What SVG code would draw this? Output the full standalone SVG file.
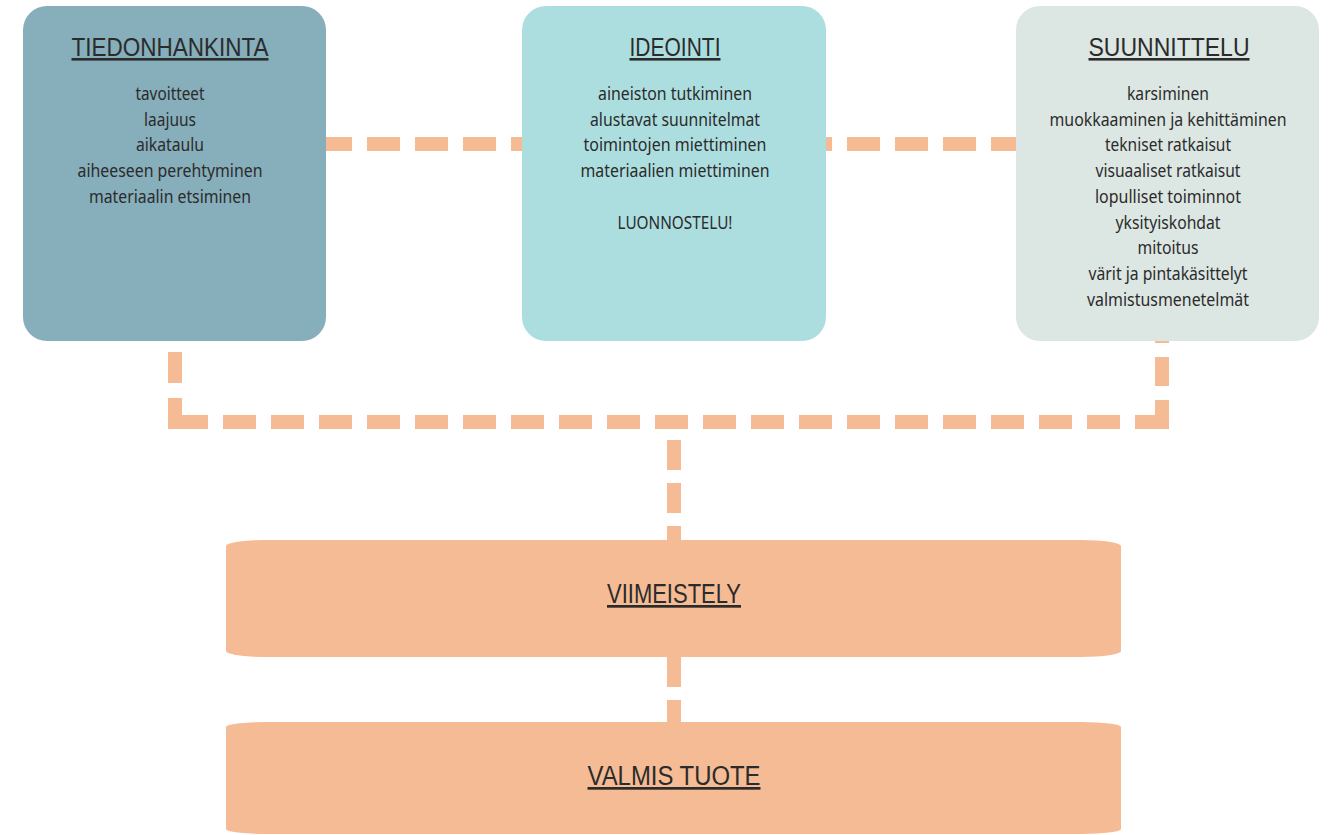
<svg xmlns="http://www.w3.org/2000/svg" width="1335" height="835" viewBox="0 0 1335 835">
<style>
.conn{fill:none;stroke:#F5BB94;stroke-width:14;stroke-linecap:butt}
.title{font-family:"Liberation Sans",Arial,sans-serif;font-size:26px;fill:#2b2b2b;text-anchor:middle;text-decoration:underline}
.big{font-size:27px}
.body{font-family:"Noto Sans","Open Sans",sans-serif;font-size:18.5px;fill:#2b2b2b;text-anchor:middle}
.orange{fill:#F5BB94}
</style>
<rect width="1335" height="835" fill="#ffffff"/>
<g id="connectors">
  <path class="conn" d="M175,144 H1168" stroke-dasharray="33 15"/>
  <path class="conn" d="M175,422 H1162" stroke-dasharray="33 15"/>
  <path class="conn" d="M175,429 V341" stroke-dasharray="31 15"/>
  <path class="conn" d="M1162,429 V330" stroke-dasharray="29 14"/>
  <path class="conn" d="M674,440 V545" stroke-dasharray="30 13"/>
  <path class="conn" d="M674,657 V725" stroke-dasharray="30 13"/>
</g>
<g id="tiedonhankinta">
  <rect x="23" y="6" width="303" height="335" rx="24" ry="24" fill="#86AEBB"/>
  <text class="title" x="170" y="56" textLength="197" lengthAdjust="spacingAndGlyphs">TIEDONHANKINTA</text>
  <text class="body" x="170" y="100" textLength="69" lengthAdjust="spacingAndGlyphs">tavoitteet</text>
  <text class="body" x="170" y="125.7" textLength="52" lengthAdjust="spacingAndGlyphs">laajuus</text>
  <text class="body" x="170" y="151.4" textLength="68" lengthAdjust="spacingAndGlyphs">aikataulu</text>
  <text class="body" x="170" y="177.1" textLength="185" lengthAdjust="spacingAndGlyphs">aiheeseen perehtyminen</text>
  <text class="body" x="170" y="202.8" textLength="162" lengthAdjust="spacingAndGlyphs">materiaalin etsiminen</text>
</g>
<g id="ideointi">
  <rect x="522" y="6" width="304" height="335" rx="24" ry="24" fill="#ADDEDF"/>
  <text class="title" x="675" y="56" textLength="91" lengthAdjust="spacingAndGlyphs">IDEOINTI</text>
  <text class="body" x="675" y="100" textLength="154" lengthAdjust="spacingAndGlyphs">aineiston tutkiminen</text>
  <text class="body" x="675" y="125.7" textLength="170" lengthAdjust="spacingAndGlyphs">alustavat suunnitelmat</text>
  <text class="body" x="675" y="151.4" textLength="183" lengthAdjust="spacingAndGlyphs">toimintojen miettiminen</text>
  <text class="body" x="675" y="177.1" textLength="189" lengthAdjust="spacingAndGlyphs">materiaalien miettiminen</text>
  <text class="body" x="675" y="228.5" textLength="115" lengthAdjust="spacingAndGlyphs">LUONNOSTELU!</text>
</g>
<g id="suunnittelu">
  <rect x="1016" y="6" width="303" height="335" rx="24" ry="24" fill="#DCE6E2"/>
  <text class="title" x="1169" y="56" textLength="161" lengthAdjust="spacingAndGlyphs">SUUNNITTELU</text>
  <text class="body" x="1168" y="100" textLength="82" lengthAdjust="spacingAndGlyphs">karsiminen</text>
  <text class="body" x="1168" y="125.7" textLength="237" lengthAdjust="spacingAndGlyphs">muokkaaminen ja kehittäminen</text>
  <text class="body" x="1168" y="151.4" textLength="126" lengthAdjust="spacingAndGlyphs">tekniset ratkaisut</text>
  <text class="body" x="1168" y="177.1" textLength="145" lengthAdjust="spacingAndGlyphs">visuaaliset ratkaisut</text>
  <text class="body" x="1168" y="202.8" textLength="146" lengthAdjust="spacingAndGlyphs">lopulliset toiminnot</text>
  <text class="body" x="1168" y="228.5" textLength="105" lengthAdjust="spacingAndGlyphs">yksityiskohdat</text>
  <text class="body" x="1168" y="254.2" textLength="61" lengthAdjust="spacingAndGlyphs">mitoitus</text>
  <text class="body" x="1168" y="279.9" textLength="159" lengthAdjust="spacingAndGlyphs">värit ja pintakäsittelyt</text>
  <text class="body" x="1168" y="305.6" textLength="162" lengthAdjust="spacingAndGlyphs">valmistusmenetelmät</text>
</g>
<g id="viimeistely">
  <rect class="orange" x="226" y="540" width="895" height="117" rx="40" ry="6"/>
  <text class="title big" x="674" y="603" textLength="134" lengthAdjust="spacingAndGlyphs">VIIMEISTELY</text>
</g>
<g id="valmis-tuote">
  <rect class="orange" x="226" y="722" width="895" height="112" rx="40" ry="5"/>
  <text class="title big" x="674" y="785" textLength="173" lengthAdjust="spacingAndGlyphs">VALMIS TUOTE</text>
</g>
</svg>
